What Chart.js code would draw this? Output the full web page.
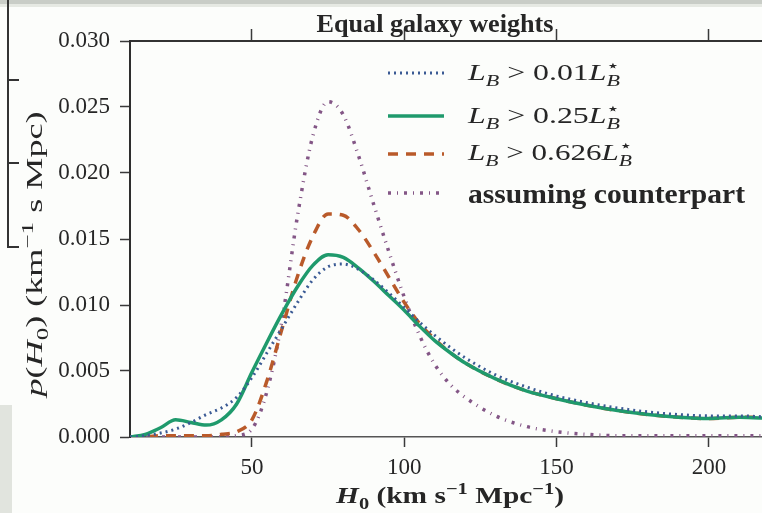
<!DOCTYPE html>
<html>
<head>
<meta charset="utf-8">
<script src="https://cdn.jsdelivr.net/npm/chart.js@4.4.1/dist/chart.umd.min.js"></script>
<style>
html, body { margin: 0; padding: 0; background: #fcfdfb; }
#graphH0 { display: block; }
</style>
</head>
<body>
<canvas id="graphH0" width="762" height="513"></canvas>
<script>
// H0 (km/s/Mpc) et densites de probabilite p(H0)
var h0 = [10, 15, 20, 25, 30, 35, 40, 45, 50, 55, 60, 65, 70, 75, 80, 85, 90, 95, 100, 105, 110, 115, 120, 130, 140, 150, 160, 170, 180, 190, 200, 210, 220];

var pLB001 = [0, 0.0001, 0.0003, 0.0006, 0.0011, 0.0017, 0.0022, 0.0030, 0.0045, 0.0064, 0.0083, 0.0102, 0.0119, 0.0129, 0.0131, 0.0127, 0.0119, 0.0109, 0.0098, 0.0087, 0.0077, 0.0068, 0.0060, 0.0047, 0.0038, 0.0031, 0.0026, 0.0022, 0.0019, 0.0017, 0.0016, 0.0016, 0.0015];
var pLB025 = [0, 0.0002, 0.0007, 0.0013, 0.0011, 0.0009, 0.0013, 0.0025, 0.0049, 0.0072, 0.0094, 0.0114, 0.0130, 0.0138, 0.0136, 0.0128, 0.0118, 0.0107, 0.0096, 0.0084, 0.0073, 0.0064, 0.0056, 0.0044, 0.0035, 0.0029, 0.0024, 0.0020, 0.0017, 0.0015, 0.0014, 0.0015, 0.0014];
var pLB0626 = [0, 0, 0.0001, 0.0001, 0.0001, 0.0001, 0.0002, 0.0004, 0.0013, 0.0043, 0.0083, 0.0122, 0.0152, 0.0169, 0.0168, 0.0157, 0.0140, 0.0121, 0.0102, 0.0086, 0.0074, 0.0064, 0.0056, 0.0044, 0.0035, 0.0029, 0.0024, 0.0020, 0.0017, 0.0015, 0.0014, 0.0015, 0.0015];
var pContrepartie = [0, 0, 0, 0, 0, 0, 0, 0.0001, 0.0006, 0.0035, 0.0090, 0.0168, 0.0228, 0.0254, 0.0244, 0.0213, 0.0176, 0.0140, 0.0106, 0.0077, 0.0055, 0.0040, 0.0030, 0.0016, 0.0008, 0.0004, 0.0002, 0.0001, 0.0001, 0.0001, 0.0001, 0.0001, 0.0001];

var xTicks = [50, 100, 150, 200];
var yTicks = [0, 0.005, 0.010, 0.015, 0.020, 0.025, 0.030];

var titre = [['Equal galaxy weights', 'b']];
// morceaux de texte : [texte, style, position, sans avance]
var legendes = [
    [['L', 'i'], ['B', 'i', 'sub'], [' > 0.01', 'n'], ['L', 'i'], ['\u22C6', 'n', 'sup', 1], ['B', 'i', 'sub']],
    [['L', 'i'], ['B', 'i', 'sub'], [' > 0.25', 'n'], ['L', 'i'], ['\u22C6', 'n', 'sup', 1], ['B', 'i', 'sub']],
    [['L', 'i'], ['B', 'i', 'sub'], [' > 0.626', 'n'], ['L', 'i'], ['\u22C6', 'n', 'sup', 1], ['B', 'i', 'sub']],
    [['assuming counterpart', 'b']]
];
var titreX = [['H', 'bi'], ['0', 'b', 'sub'], [' (km s', 'b'], ['\u22121', 'b', 'sup'], [' Mpc', 'b'], ['\u22121', 'b', 'sup'], [')', 'b']];
var titreY = [['p', 'i'], ['(', 'n'], ['H', 'i'], ['0', 'n', 'sub'], [') (km', 'n'], ['\u22121', 'n', 'sup'], [' s Mpc)', 'n']];

var famille = "'Liberation Serif', 'DejaVu Serif', serif";
var couleurTexte = '#262626';

function police(style, taille) {
    if (style == 'b') return 'bold ' + taille + 'px ' + famille;
    if (style == 'bi') return 'italic bold ' + taille + 'px ' + famille;
    if (style == 'i') return 'italic ' + taille + 'px ' + famille;
    return taille + 'px ' + famille;
}

function dessinerRiche(ctx, parts, x, y, taille, align, largeur) {
    var petit = Math.round(taille * 0.7);
    var w = 0;
    parts.forEach(function(p) {
        ctx.font = police(p[1], p[2] ? petit : taille);
        if (!p[3]) w += ctx.measureText(p[0]).width;
    });
    var sx = largeur ? largeur / w : 1;
    ctx.save();
    ctx.translate(x, y);
    ctx.scale(sx, 1);
    ctx.fillStyle = couleurTexte;
    ctx.textAlign = 'left';
    ctx.textBaseline = 'alphabetic';
    var cx = align == 'center' ? -w / 2 : 0;
    parts.forEach(function(p) {
        ctx.font = police(p[1], p[2] ? petit : taille);
        var dy = 0;
        if (p[2] == 'sub') dy = taille * 0.25;
        if (p[2] == 'sup') dy = -taille * 0.4;
        ctx.fillText(p[0], cx, dy);
        if (!p[3]) cx += ctx.measureText(p[0]).width;
    });
    ctx.restore();
}

function points(serie) {
    return h0.map(function(x, i) { return { x: x, y: serie[i] }; });
}

// fond de la diapo : bandeau haut, bord du graphe voisin
var decor = {
    id: 'decor',
    beforeDraw: function(chart) {
        var ctx = chart.ctx;
        ctx.save();
        ctx.fillStyle = '#fcfdfb';
        ctx.fillRect(0, 0, chart.width, chart.height);
        ctx.fillStyle = '#c9cdc7';
        ctx.fillRect(0, 0, chart.width, 4);
        ctx.fillStyle = '#e6e9e3';
        ctx.fillRect(0, 4, chart.width, 3);
        ctx.fillStyle = '#e1e4de';
        ctx.fillRect(0, 405, 12, chart.height - 405);
        ctx.strokeStyle = '#333';
        ctx.lineWidth = 2;
        ctx.beginPath();
        ctx.moveTo(8, 0);
        ctx.lineTo(8, 248);
        [80, 163, 247].forEach(function(y) {
            ctx.moveTo(8, y);
            ctx.lineTo(19, y);
        });
        ctx.stroke();
        ctx.restore();
    }
};

var legendeY = [73, 116, 154, 193];
var legendeBase = [80, 123, 160, 203];
var legendeLargeur = [152, 152, 164, 277];

var textes = {
    id: 'textes',
    afterDraw: function(chart) {
        var ctx = chart.ctx;
        dessinerRiche(ctx, titre, 435, 32, 25, 'center', 237);
        dessinerRiche(ctx, titreX, 450, 503, 23, 'center', 228);

        ctx.save();
        ctx.translate(42, 254);
        ctx.rotate(-Math.PI / 2);
        dessinerRiche(ctx, titreY, 0, 0, 23, 'center', 285);
        ctx.restore();

        chart.data.datasets.forEach(function(ds, i) {
            ctx.save();
            ctx.strokeStyle = ds.borderColor;
            ctx.lineWidth = ds.borderWidth;
            ctx.setLineDash(ds.borderDash || []);
            ctx.lineCap = 'butt';
            ctx.beginPath();
            ctx.moveTo(388, legendeY[i]);
            ctx.lineTo(444, legendeY[i]);
            ctx.stroke();
            ctx.restore();
            var taille = i == 3 ? 27 : 23;
            dessinerRiche(ctx, legendes[i], 468, legendeBase[i], taille, 'left', legendeLargeur[i]);
        });
    }
};

function axeX(position, longueur, hauteur) {
    return {
        type: 'linear',
        position: position,
        min: 10,
        max: 217.4,
        afterBuildTicks: function(s) { s.ticks = xTicks.map(function(v) { return { value: v }; }); },
        afterFit: function(s) { s.height = hauteur; },
        grid: { drawOnChartArea: false, drawTicks: true, tickLength: longueur, tickColor: '#3a3a3a', tickWidth: 1.5 },
        border: { display: true, color: position == 'top' ? '#333' : '#555', width: position == 'top' ? 2 : 1.5 },
        ticks: {
            display: position == 'bottom',
            maxRotation: 0,
            padding: 7,
            color: couleurTexte,
            font: { family: famille, size: 23 },
            callback: function(v) { return v; }
        }
    };
}

var graph = new Chart(document.getElementById('graphH0'), {
    type: 'line',
    data: {
        datasets: [
            {
                label: 'LB > 0.01 L*B',
                data: points(pLB001),
                borderColor: '#3a5a94',
                borderWidth: 3,
                borderDash: [2, 4],
                xAxisID: 'x',
                yAxisID: 'y'
            },
            {
                label: 'LB > 0.25 L*B',
                data: points(pLB025),
                borderColor: '#1f9a6c',
                borderWidth: 3.5,
                xAxisID: 'x',
                yAxisID: 'y'
            },
            {
                label: 'LB > 0.626 L*B',
                data: points(pLB0626),
                borderColor: '#b95a2a',
                borderWidth: 3.5,
                borderDash: [10, 8],
                xAxisID: 'x',
                yAxisID: 'y'
            },
            {
                label: 'assuming counterpart',
                data: points(pContrepartie),
                borderColor: '#835686',
                borderWidth: 3.5,
                borderDash: [3, 6, 1, 6],
                xAxisID: 'x',
                yAxisID: 'y'
            }
        ]
    },
    options: {
        responsive: false,
        animation: false,
        events: [],
        layout: { padding: 0 },
        elements: {
            point: { radius: 0 },
            line: { cubicInterpolationMode: 'monotone', fill: false }
        },
        plugins: {
            legend: { display: false },
            tooltip: { enabled: false },
            title: { display: false }
        },
        scales: {
            x: axeX('bottom', 10, 76),
            xHaut: axeX('top', 12, 41),
            y: {
                type: 'linear',
                position: 'left',
                min: 0,
                max: 0.03,
                afterBuildTicks: function(s) { s.ticks = yTicks.map(function(v) { return { value: v }; }); },
                afterFit: function(s) { s.width = 130; },
                grid: { drawOnChartArea: false, drawTicks: true, tickLength: 10, tickColor: '#3a3a3a', tickWidth: 1.5 },
                border: { display: true, color: '#2e2e2e', width: 2 },
                ticks: {
                    padding: 10,
                    color: couleurTexte,
                    font: { family: famille, size: 23 },
                    callback: function(v) { return v.toFixed(3); }
                }
            }
        }
    },
    plugins: [decor, textes]
});
</script>
</body>
</html>
